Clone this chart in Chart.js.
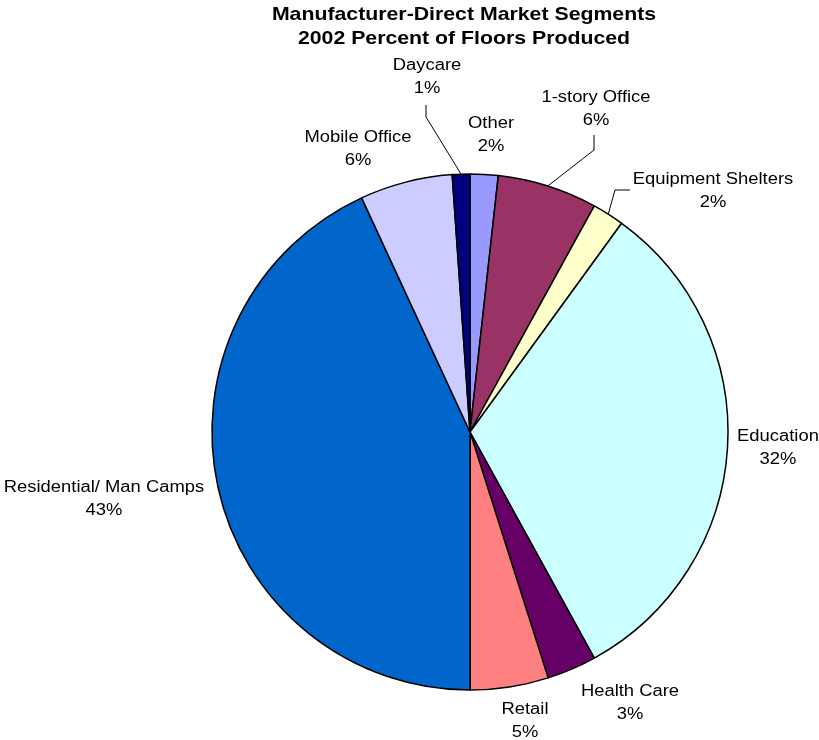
<!DOCTYPE html>
<html>
<head>
<meta charset="utf-8">
<script src="https://cdn.jsdelivr.net/npm/chart.js@4"></script>
<style>
  html, body { margin: 0; padding: 0; background: #fff; }
  #wrap { width: 819px; height: 740px; }
</style>
</head>
<body>
<div id="wrap"><canvas id="pieChart" width="819" height="740"></canvas></div>
<script>
const titleLines = ["Manufacturer-Direct Market Segments", "2002 Percent of Floors Produced"];
const segments = ["Other", "1-story Office", "Equipment Shelters", "Education", "Health Care",
  "Retail", "Residential/ Man Camps", "Mobile Office", "Daycare"];
const shares = [1.75, 6.25, 2.0, 32.0, 3.1, 4.9, 43.1, 5.8, 1.1];
const sliceColors = ["#9999FF", "#993366", "#FFFFCC", "#CCFFFF", "#660066",
  "#FF8080", "#0066CC", "#CCCCFF", "#000080"];

// label placement, relative to the pie centre (first line centre)
const labelOffsets = [
  [21, -308], [126, -334], [243, -252], [308, 5], [160, 260],
  [55, 278], [-366, 56], [-112, -294], [-43, -366]
];
// leader lines: points after the slice edge, relative to the pie centre
const leaders = {
  1: [[124, -282], [124, -297]],
  2: [[145, -242], [160, -242]],
  8: [[-44, -315], [-44, -327]]
};

const total = shares.reduce((a, b) => a + b, 0);
const STRETCH = 1.15; // the original text is drawn a bit wide

function wideText(ctx, str, x, y) {
  ctx.save();
  ctx.translate(x, y);
  ctx.scale(STRETCH, 1);
  ctx.fillText(str, 0, 0);
  ctx.restore();
}

const labelPlugin = {
  id: "pieLabels",
  afterDraw(chart) {
    const ctx = chart.ctx;
    const arcs = chart.getDatasetMeta(0).data;
    const cx = arcs[0].x, cy = arcs[0].y;
    ctx.save();

    // title
    ctx.fillStyle = "#000";
    ctx.textAlign = "center";
    ctx.textBaseline = "middle";
    ctx.font = "bold 18.5px 'Liberation Sans', Arial, sans-serif";
    wideText(ctx, titleLines[0], 464, 15);
    wideText(ctx, titleLines[1], 464, 39);

    // leader lines
    ctx.strokeStyle = "#000";
    ctx.lineWidth = 1;
    Object.keys(leaders).forEach(k => {
      const arc = arcs[k];
      const mid = (arc.startAngle + arc.endAngle) / 2;
      ctx.beginPath();
      ctx.moveTo(cx + Math.cos(mid) * arc.outerRadius, cy + Math.sin(mid) * arc.outerRadius);
      leaders[k].forEach(p => ctx.lineTo(cx + p[0], cy + p[1]));
      ctx.stroke();
    });

    // labels
    ctx.font = "16px 'Liberation Sans', Arial, sans-serif";
    segments.forEach((name, i) => {
      const x = cx + labelOffsets[i][0];
      const y = cy + labelOffsets[i][1];
      const pct = Math.round(shares[i] / total * 100) + "%";
      wideText(ctx, name, x, y);
      wideText(ctx, pct, x, y + 23);
    });
    ctx.restore();
  }
};

new Chart(document.getElementById("pieChart"), {
  type: "pie",
  data: {
    labels: segments,
    datasets: [{
      data: shares,
      backgroundColor: sliceColors,
      borderColor: "#000",
      borderWidth: 1.5
    }]
  },
  options: {
    responsive: false,
    animation: false,
    radius: 258,
    layout: { padding: { left: 161, right: 40, top: 164, bottom: 40 } },
    plugins: {
      legend: { display: false },
      tooltip: { enabled: false },
      title: { display: false }
    }
  },
  plugins: [labelPlugin]
});
</script>
</body>
</html>
